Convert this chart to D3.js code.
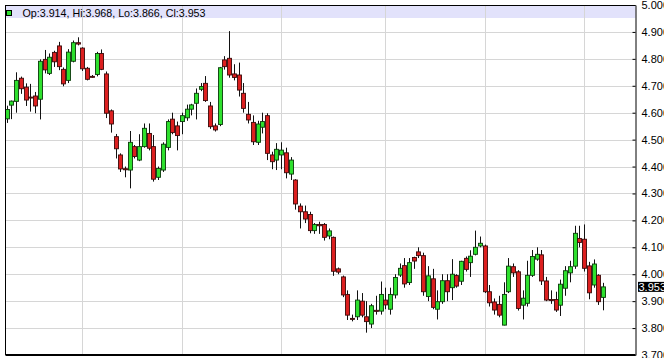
<!DOCTYPE html>
<html>
<head>
<meta charset="utf-8">
<script src="https://cdn.jsdelivr.net/npm/d3@7/dist/d3.min.js"></script>
<style>
  body { margin: 0; background: #fff; }
  svg { display: block; font-family: "Liberation Sans", Arial, sans-serif; }
</style>
</head>
<body>
<svg id="chart"></svg>
<script>
const width = 664;
const height = 358;

// daily candles, oldest first
const opens = [4.577,4.628,4.642,4.728,4.695,4.658,4.662,4.650,4.798,4.746,4.824,4.848,4.761,4.720,4.791,4.860,4.840,4.765,4.735,4.742,
  4.820,4.744,4.607,4.511,4.443,4.392,4.387,4.474,4.424,4.474,4.523,4.474,4.360,4.387,4.471,4.576,4.551,4.567,4.581,4.613,
  4.635,4.687,4.709,4.625,4.551,4.556,4.796,4.802,4.744,4.740,4.672,4.594,4.564,4.490,4.546,4.589,4.443,4.424,4.443,4.451,
  4.372,4.350,4.253,4.232,4.222,4.162,4.185,4.185,4.142,4.137,4.020,3.990,3.925,3.836,3.842,3.900,3.842,3.815,3.866,3.863,
  3.904,3.870,3.923,3.997,4.032,3.969,4.062,4.083,4.069,3.917,3.983,3.870,3.898,3.976,3.950,3.995,3.974,4.059,4.043,4.074,
  4.105,4.105,3.935,3.897,3.888,3.811,3.935,4.028,4.009,3.885,3.892,3.996,4.056,4.072,3.975,3.906,3.906,3.885,3.948,4.005,
  4.030,4.133,4.130,4.031,3.960,3.996,3.914];
const highs = [4.626,4.645,4.750,4.734,4.709,4.707,4.677,4.798,4.833,4.820,4.830,4.863,4.768,4.836,4.868,4.880,4.843,4.770,4.740,4.826,
  4.835,4.753,4.612,4.521,4.449,4.400,4.532,4.480,4.520,4.560,4.560,4.517,4.400,4.490,4.575,4.600,4.567,4.600,4.630,4.633,
  4.690,4.710,4.736,4.640,4.560,4.770,4.810,4.903,4.780,4.786,4.710,4.640,4.590,4.570,4.600,4.598,4.455,4.487,4.490,4.470,
  4.435,4.353,4.263,4.255,4.232,4.190,4.195,4.190,4.170,4.140,4.025,3.995,3.940,3.850,3.940,3.930,3.900,3.890,3.920,3.973,
  3.950,3.950,4.000,4.040,4.060,4.060,4.065,4.100,4.080,4.030,4.020,3.940,4.000,4.000,4.056,4.000,4.050,4.066,4.089,4.162,
  4.140,4.110,3.960,3.910,3.920,3.970,4.060,4.040,4.015,3.940,4.050,4.090,4.100,4.090,3.990,3.940,3.935,3.980,4.030,4.050,
  4.180,4.180,4.185,4.046,4.055,4.000,3.968];
const lows = [4.562,4.576,4.600,4.670,4.625,4.604,4.598,4.575,4.746,4.740,4.770,4.758,4.698,4.710,4.787,4.850,4.755,4.720,4.730,4.735,
  4.758,4.580,4.526,4.430,4.380,4.360,4.319,4.430,4.420,4.470,4.460,4.344,4.350,4.380,4.460,4.520,4.460,4.520,4.570,4.590,
  4.575,4.680,4.640,4.540,4.530,4.550,4.760,4.730,4.720,4.660,4.600,4.560,4.480,4.480,4.523,4.424,4.390,4.387,4.390,4.356,
  4.350,4.240,4.170,4.190,4.152,4.150,4.150,4.125,4.130,3.994,4.000,3.915,3.830,3.825,3.830,3.840,3.783,3.800,3.850,3.850,
  3.870,3.850,3.910,3.990,3.950,3.960,4.020,4.060,3.920,3.900,3.870,3.832,3.890,3.900,3.904,3.950,3.960,4.010,3.990,4.070,
  4.100,3.930,3.880,3.850,3.840,3.810,3.930,3.990,3.865,3.832,3.880,3.990,4.050,3.960,3.900,3.890,3.860,3.845,3.920,3.970,
  4.020,4.100,4.010,3.907,3.950,3.886,3.866];
const closes = [4.612,4.643,4.720,4.689,4.647,4.655,4.625,4.791,4.759,4.806,4.789,4.771,4.707,4.825,4.860,4.855,4.763,4.724,4.733,4.820,
  4.761,4.598,4.558,4.466,4.391,4.388,4.490,4.437,4.474,4.542,4.468,4.353,4.393,4.483,4.567,4.526,4.515,4.589,4.613,4.629,
  4.672,4.697,4.645,4.548,4.536,4.767,4.771,4.740,4.731,4.684,4.616,4.573,4.492,4.558,4.567,4.449,4.418,4.464,4.461,4.377,
  4.424,4.261,4.232,4.205,4.162,4.185,4.180,4.137,4.161,4.011,4.008,3.923,3.848,3.834,3.904,3.848,3.824,3.883,3.862,3.925,
  3.886,3.925,3.988,4.022,3.964,4.043,4.049,4.069,3.935,3.994,3.877,3.898,3.976,3.935,4.000,3.956,4.048,4.018,4.067,4.100,
  4.115,3.935,3.894,3.867,3.848,3.925,4.030,4.005,3.873,3.911,3.996,4.066,4.074,3.975,3.904,3.904,3.867,3.963,4.013,4.028,
  4.152,4.118,4.022,3.931,4.038,3.898,3.953];

const priceTicks = [5.0, 4.9, 4.8, 4.7, 4.6, 4.5, 4.4, 4.3, 4.2, 4.1, 4.0, 3.9, 3.8, 3.7];
// candles where a new month starts (vertical grid)
const monthStarts = [16, 37, 58, 80, 101, 122];

const candles = opens.map((o, i) => ({
  i: i, open: o, high: highs[i], low: lows[i], close: closes[i],
}));

const plotLeft = 5.5;
const plotRight = 635.5;
const plotTop = 5;
const plotBottom = 355;

const svg = d3.select("#chart").attr("width", width).attr("height", height);

const x = d3.scalePoint()
  .domain(candles.map((d) => d.i))
  .range([6.7, 603]);

const y = d3.scaleLinear()
  .domain([3.7, 5.0])
  .range([plotBottom, plotTop]);

// info band at the top
svg.append("rect")
  .attr("x", plotLeft)
  .attr("y", plotTop)
  .attr("width", plotRight - plotLeft)
  .attr("height", 13)
  .attr("fill", "#e2e2fb");

// grid
svg.append("g")
  .selectAll("line")
  .data(priceTicks.slice(1, -1))
  .join("line")
  .attr("x1", plotLeft)
  .attr("x2", plotRight)
  .attr("y1", (d) => Math.round(y(d)) + 0.5)
  .attr("y2", (d) => Math.round(y(d)) + 0.5)
  .attr("stroke", "#d6d6d6");

svg.append("g")
  .selectAll("line")
  .data(monthStarts)
  .join("line")
  .attr("x1", (d) => Math.round(x(d)) + 0.5)
  .attr("x2", (d) => Math.round(x(d)) + 0.5)
  .attr("y1", plotTop)
  .attr("y2", plotBottom)
  .attr("stroke", "#d6d6d6");

// candles
const g = svg.append("g");
const bodyW = 4;

g.selectAll("line.wick")
  .data(candles)
  .join("line")
  .attr("class", "wick")
  .attr("x1", (d) => Math.round(x(d.i)) + 0.5)
  .attr("x2", (d) => Math.round(x(d.i)) + 0.5)
  .attr("y1", (d) => y(d.high))
  .attr("y2", (d) => y(d.low))
  .attr("stroke", "#111")
  .attr("stroke-width", 1);

g.selectAll("rect.body")
  .data(candles)
  .join("rect")
  .attr("class", "body")
  .attr("x", (d) => Math.round(x(d.i)) + 0.5 - bodyW / 2)
  .attr("y", (d) => y(Math.max(d.open, d.close)))
  .attr("width", bodyW)
  .attr("height", (d) => Math.max(1, Math.abs(y(d.open) - y(d.close))))
  .attr("fill", (d) => (d.close >= d.open ? "#2ee02e" : "#dc1f1f"))
  .attr("stroke", (d) => (d.close >= d.open ? "#0b3a0b" : "#3a0b0b"))
  .attr("stroke-width", 0.9);

// frame
svg.append("line")
  .attr("x1", plotLeft).attr("x2", plotLeft)
  .attr("y1", plotTop).attr("y2", plotBottom)
  .attr("stroke", "#000");
svg.append("line")
  .attr("x1", plotLeft).attr("x2", plotRight)
  .attr("y1", plotTop + 0.5).attr("y2", plotTop + 0.5)
  .attr("stroke", "#000");
svg.append("line")
  .attr("x1", plotLeft).attr("x2", plotRight)
  .attr("y1", plotBottom).attr("y2", plotBottom)
  .attr("stroke", "#000")
  .attr("stroke-width", 2);

// price axis on the right (labels run off the edge, as in the original)
const yAxis = d3.axisRight(y)
  .tickValues(priceTicks)
  .tickFormat(d3.format(".3f"))
  .tickSizeInner(-3)
  .tickSizeOuter(0)
  .tickPadding(6);

const axisG = svg.append("g")
  .attr("transform", `translate(${plotRight},0)`)
  .call(yAxis);
axisG.select(".domain").attr("stroke", "#000");
axisG.selectAll(".tick line").attr("stroke", "#000");
axisG.selectAll(".tick text")
  .attr("fill", "#000")
  .attr("font-size", 11)
  .attr("font-family", '"Liberation Sans", Arial, sans-serif');

// last price tag
const last = candles[candles.length - 1];
svg.append("rect")
  .attr("x", 638)
  .attr("y", y(last.close) - 5)
  .attr("width", 30)
  .attr("height", 10)
  .attr("fill", "#000");
svg.append("text")
  .attr("x", 638.5)
  .attr("y", y(last.close) + 4)
  .attr("fill", "#fff")
  .attr("font-size", 11)
  .text(last.close.toFixed(3));

// OHLC legend of the last candle
svg.append("rect")
  .attr("x", 6.5)
  .attr("y", 10.5)
  .attr("width", 5)
  .attr("height", 5)
  .attr("fill", "#2ee02e")
  .attr("stroke", "#000");
svg.append("text")
  .attr("x", 22.5)
  .attr("y", 16.5)
  .attr("font-size", 10.7)
  .attr("fill", "#000")
  .text(`Op:${last.open.toFixed(3)}, Hi:${last.high.toFixed(3)}, Lo:${last.low.toFixed(3)}, Cl:${last.close.toFixed(3)}`);
</script>
</body>
</html>
